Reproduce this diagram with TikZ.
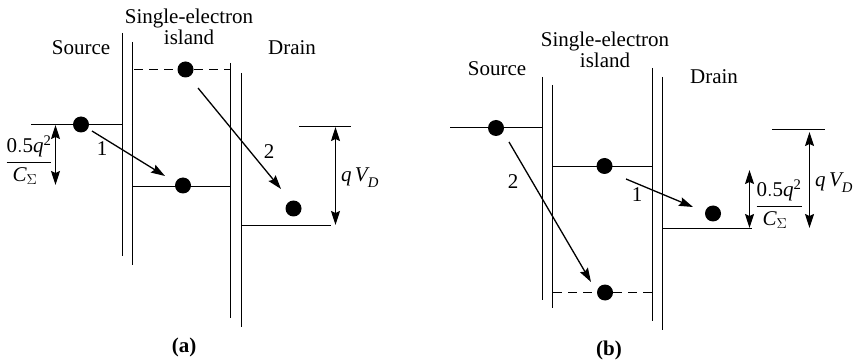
\documentclass[tikz,border=0pt]{standalone}
\usepackage{fontspec}
\setmainfont{Liberation Serif}
\usetikzlibrary{arrows.meta}

\begin{document}
\begin{tikzpicture}[x=1pt, y=-1pt, >={Stealth[length=14pt,width=9pt,inset=2pt]},
    plate/.style={line width=1.3pt},
    lvl/.style={line width=1.3pt},
    dashlvl/.style={line width=1.3pt, dash pattern=on 9pt off 6pt},
    elec/.style={circle, fill=black, minimum size=16pt, inner sep=0pt},
    tunnel/.style={->, line width=1.3pt},
    span/.style={<->, line width=1.3pt},
    lab/.style={font=\fontsize{21}{21}\selectfont, anchor=base, inner sep=0pt, align=center}]
  \useasboundingbox (0,0) rectangle (853,363);
  % plates
  \foreach \x/\t/\b in {122.5/33/256, 132.5/42/265, 230.5/63/318, 241.5/73/327,
                        542.5/77/300, 552.5/85/308, 652.5/68/321, 662.5/77/330}{
    \draw[plate] (\x,\t)--(\x,\b);
  }
  % energy levels
  \foreach \xa/\xb/\y in {31/122/124.5, 133/230/186.5, 241/331/225.5, 299/351/126.5,
                          450/542/127.5, 553/652/166.5, 662.5/752/228.5, 772/825/129.5}{
    \draw[lvl] (\xa,\y)--(\xb,\y);
  }
  \draw[dashlvl] (134,69.5)--(231,69.5);
  \draw[dashlvl] (553,292.5)--(652,292.5);
  % electrons
  \foreach \n/\x/\y in {srcA/81/124.5, upA/185.5/69.5, lowA/183/185.5, drA/293.5/208.5,
                        srcB/496/128, upB/604.5/166, lowB/605/292.5, drB/713/213.5}{
    \node[elec] (\n) at (\x,\y) {};
  }
  % arrow ends
  \foreach \n/\x/\y in {oneAs/92/131, oneAe/165/176, twoAs/198/88, twoAe/281/189,
                        oneBs/626/179, oneBe/693/207, twoBs/509/142, twoBe/591/282,
                        chA1/55.5/125, chA2/55.5/185, vdA1/335.5/127, vdA2/335.5/225,
                        chB1/749.5/170, chB2/749.5/228, vdB1/809.5/132, vdB2/809.5/228}{
    \coordinate (\n) at (\x,\y);
  }
  \foreach \p/\q in {oneAs/oneAe, twoAs/twoAe, oneBs/oneBe, twoBs/twoBe}{
    \draw[tunnel] (\p)--(\q);
  }
  \foreach \p/\q in {chA1/chA2, vdA1/vdA2, chB1/chB2, vdB1/vdB2}{
    \draw[span] (\p)--(\q);
  }
  % labels
  \node[lab] (sourceA) at (81,55) {Source};
  \node[lab, anchor=center] (islandA) at (189,27) {Single-electron\\island};
  \node[lab] (drainA) at (292,55) {Drain};
  \node[lab] (oneA) at (102,156) {1};
  \node[lab] (twoA) at (269,159) {2};
  \node[lab] (vdlabA) at (360,182) {$\mathit{q\,V}_{\mathit{D}}$};
  \node[lab, anchor=center] (chlabA) at (29,160) {$\displaystyle\frac{\mathrm{0.5}\mathit{q}^{\mathrm{2}}}{\mathit{C}_\Sigma\hspace{8pt}}$};
  \node[lab] (capA) at (184,352) {\textbf{(a)}};
  \node[lab] (sourceB) at (497,76) {Source};
  \node[lab, anchor=center] (islandB) at (605,50) {Single-electron\\island};
  \node[lab] (drainB) at (714,84) {Drain};
  \node[lab] (oneB) at (637,202) {1};
  \node[lab] (twoB) at (513,189) {2};
  \node[lab] (vdlabB) at (834,187) {$\mathit{q\,V}_{\mathit{D}}$};
  \node[lab, anchor=center] (chlabB) at (779,204) {$\displaystyle\frac{\mathrm{0.5}\mathit{q}^{\mathrm{2}}}{\mathit{C}_\Sigma\hspace{8pt}}$};
  \node[lab] (capB) at (609,355) {\textbf{(b)}};
\end{tikzpicture}
\end{document}
